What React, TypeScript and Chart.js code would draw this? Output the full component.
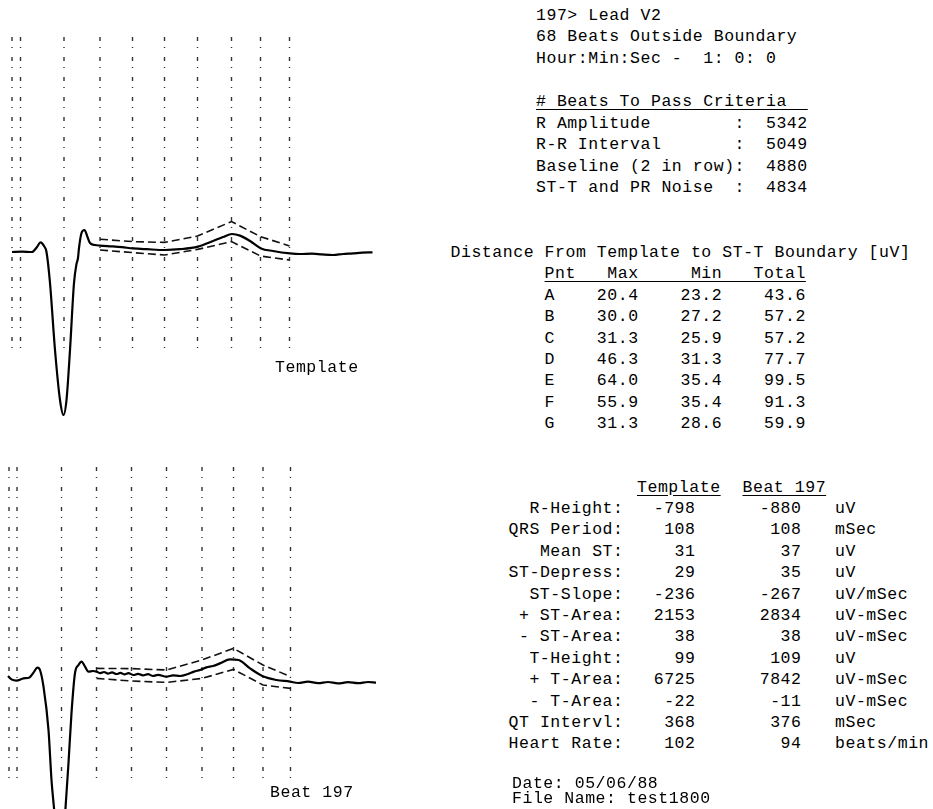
import React, { useEffect, useRef } from "react";
import { Chart, registerables } from "chart.js";
Chart.register(...registerables);

// ---------- waveform data (time in ms, amplitude in uV) ----------
const TOP_MARKERS = [0, 17, 104, 176, 241, 305, 371, 439, 497, 555];
const BOTTOM_MARKERS = [2, 18, 107, 177, 247, 317, 388, 451, 510, 565];

const TEMPLATE_T = [0, 20, 40, 50, 57, 64, 69, 76, 86, 96, 103, 109, 116, 124, 129, 132, 134, 139, 145, 151, 156, 166, 176, 200, 220, 242, 270, 306, 336, 372, 402, 422, 440, 456, 476, 498, 522, 556, 576, 600, 620, 642, 662, 682, 700, 721];
const TEMPLATE_V = [0, 2, 0, 25, 48, 30, 0, -155, -490, -740, -815, -740, -490, -155, -60, -30, 20, 95, 110, 75, 45, 35, 32, 28, 24, 18, 14, 10, 14, 27, 55, 75, 90, 82, 55, 18, 5, -7, -10, -8, -12, -15, -10, -7, -3, -2];

const TOP_UPPER = [64, 52, 48, 80, 152, 77, 30];
const TOP_LOWER = [10, -3, -15, 13, 52, -20, -40];

const BEAT_T = [0, 7, 17, 31, 43, 51, 59, 64, 71, 81, 87, 92, 98, 104, 110, 115, 121, 127, 134, 141, 147, 154, 161, 170, 177, 185, 192, 200, 208, 217, 225, 233, 241, 251, 260, 270, 280, 290, 300, 317, 330, 344, 360, 372, 384, 397, 410, 424, 444, 461, 484, 511, 537, 564, 580, 600, 620, 640, 660, 680, 700, 720, 736];
const BEAT_V = [30, 13, 7, 18, 23, 47, 72, 60, -23, -240, -490, -630, -800, -880, -800, -630, -405, -155, 45, 85, 102, 77, 52, 55, 52, 44, 50, 42, 48, 40, 46, 38, 44, 35, 41, 33, 39, 30, 36, 27, 33, 30, 40, 52, 60, 73, 80, 93, 113, 110, 68, 27, 10, 2, -5, 2, -6, 0, -7, -1, -6, 0, -3];

const BEAT_UPPER = [68, 67, 60, 110, 168, 85, 27];
const BEAT_LOWER = [18, 5, -2, 18, 63, -15, -32];

const GRID_TOP = 1075;
const GRID_BOTTOM = -500;

// ---------- text data ----------
const INFO_LINES = ["197> Lead V2", "68 Beats Outside Boundary", "Hour:Min:Sec -  1: 0: 0"];
const CRITERIA_TITLE = "# Beats To Pass Criteria";
const CRITERIA_LABELS = ["R Amplitude", "R-R Interval", "Baseline (2 in row)", "ST-T and PR Noise"];
const CRITERIA_VALUES = [5342, 5049, 4880, 4834];

const DIST_TITLE = "Distance From Template to ST-T Boundary [uV]";
const DIST_POINTS = ["A", "B", "C", "D", "E", "F", "G"];
const DIST_MAX = ["20.4", "30.0", "31.3", "46.3", "64.0", "55.9", "31.3"];
const DIST_MIN = ["23.2", "27.2", "25.9", "31.3", "35.4", "35.4", "28.6"];
const DIST_TOTAL = ["43.6", "57.2", "57.2", "77.7", "99.5", "91.3", "59.9"];

const MEAS_LABELS = ["R-Height:", "QRS Period:", "Mean ST:", "ST-Depress:", "ST-Slope:", "+ ST-Area:", "- ST-Area:", "T-Height:", "+ T-Area:", "- T-Area:", "QT Intervl:", "Heart Rate:"];
const MEAS_TEMPLATE = [-798, 108, 31, 29, -236, 2153, 38, 99, 6725, -22, 368, 102];
const MEAS_BEAT = [-880, 108, 37, 35, -267, 2834, 38, 109, 7842, -11, 376, 94];
const MEAS_UNITS = ["uV", "mSec", "uV", "uV", "uV/mSec", "uV-mSec", "uV-mSec", "uV", "uV-mSec", "uV-mSec", "mSec", "beats/min"];

const FOOTER_LINES = ["Date: 05/06/88", "File Name: test1800"];

type EcgProps = {
  markers: number[];
  traceT: number[];
  traceV: number[];
  upper: number[];
  lower: number[];
  xMin: number;
  xMax: number;
  yMin: number;
  yMax: number;
  width: number;
  height: number;
};

function EcgChart(p: EcgProps) {
  const ref = useRef<HTMLCanvasElement | null>(null);
  useEffect(() => {
    if (!ref.current) return;
    const boundT = p.markers.slice(3);
    const datasets: any[] = [];
    datasets.push({
      data: p.traceT.map((t, i) => ({ x: t, y: p.traceV[i] })),
      borderColor: "#000",
      borderWidth: 2.2,
      pointRadius: 0,
      cubicInterpolationMode: "monotone",
      order: 0,
    });
    datasets.push({
      data: boundT.map((t, i) => ({ x: t, y: p.upper[i] })),
      borderColor: "#111",
      borderWidth: 1.6,
      borderDash: [8, 4],
      pointRadius: 0,
      order: 1,
    });
    datasets.push({
      data: boundT.map((t, i) => ({ x: t, y: p.lower[i] })),
      borderColor: "#111",
      borderWidth: 1.6,
      borderDash: [8, 4],
      pointRadius: 0,
      order: 1,
    });
    p.markers.forEach((m) => {
      datasets.push({
        data: [
          { x: m, y: GRID_TOP },
          { x: m, y: GRID_BOTTOM },
        ],
        borderColor: "#333",
        borderWidth: 1.4,
        borderDash: [4, 6, 1, 9],
        pointRadius: 0,
        order: 2,
      });
    });
    const chart = new Chart(ref.current, {
      type: "line",
      data: { datasets },
      options: {
        animation: false,
        responsive: false,
        devicePixelRatio: 1,
        events: [],
        layout: { padding: 0 },
        plugins: { legend: { display: false }, tooltip: { enabled: false } },
        scales: {
          x: { type: "linear", min: p.xMin, max: p.xMax, display: false },
          y: { type: "linear", min: p.yMin, max: p.yMax, display: false },
        },
      },
    });
    return () => chart.destroy();
  }, []);
  return <canvas ref={ref} width={p.width} height={p.height} style={{ display: "block", width: p.width, height: p.height }} />;
}

const mono: React.CSSProperties = {
  position: "absolute",
  fontFamily: "'Liberation Mono', 'DejaVu Sans Mono', monospace",
  fontSize: 16.5,
  letterSpacing: "0.55px",
  whiteSpace: "pre",
  color: "#000",
  margin: 0,
};

export default function App() {
  const criteriaRows = CRITERIA_LABELS.map((l, i) => l.padEnd(19) + ":  " + String(CRITERIA_VALUES[i]));
  const distRows = DIST_POINTS.map(
    (pt, i) => " ".repeat(9) + pt + DIST_MAX[i].padStart(8) + DIST_MIN[i].padStart(8) + DIST_TOTAL[i].padStart(8)
  );
  const L1 = 21.55;
  const L2 = 21.4;
  const L3 = 21.4;
  return (
    <div style={{ position: "absolute", left: 0, top: 0, width: 933, height: 809, background: "#fff", overflow: "hidden" }}>
      <div style={{ position: "absolute", left: 0, top: 0 }}>
        <EcgChart
          markers={TOP_MARKERS}
          traceT={TEMPLATE_T}
          traceV={TEMPLATE_V}
          upper={TOP_UPPER}
          lower={TOP_LOWER}
          xMin={-24}
          xMax={776}
          yMin={-890}
          yMax={1260}
          width={400}
          height={430}
        />
      </div>
      <div style={{ position: "absolute", left: 0, top: 430 }}>
        <EcgChart
          markers={BOTTOM_MARKERS}
          traceT={BEAT_T}
          traceV={BEAT_V}
          upper={BEAT_UPPER}
          lower={BEAT_LOWER}
          xMin={-16}
          xMax={784}
          yMin={-635}
          yMax={1260}
          width={400}
          height={379}
        />
      </div>

      <div style={{ ...mono, left: 275, top: 356.5, lineHeight: "21.5px" }}>Template</div>
      <div style={{ ...mono, left: 270, top: 781.5, lineHeight: "21.5px" }}>Beat 197</div>

      <div style={{ ...mono, left: 536, top: 4.9, lineHeight: L1 + "px" }}>
        {INFO_LINES.join("\n") + "\n\n"}
        <span style={{ textDecoration: "underline", textUnderlineOffset: "3px" }}>{(CRITERIA_TITLE + "  ").padEnd(26)}</span>
        {"\n" + criteriaRows.join("\n")}
      </div>

      <div style={{ ...mono, left: 450.5, top: 241.9, lineHeight: L2 + "px" }}>
        {DIST_TITLE + "\n" + " ".repeat(9)}
        <span style={{ textDecoration: "underline", textUnderlineOffset: "3px" }}>{"Pnt   Max     Min   Total"}</span>
        {"\n" + distRows.join("\n")}
      </div>

      <div style={{ ...mono, left: 637, top: 476.5, lineHeight: L3 + "px", textDecoration: "underline", textUnderlineOffset: "3px" }}>Template</div>
      <div style={{ ...mono, left: 742.5, top: 476.5, lineHeight: L3 + "px", textDecoration: "underline", textUnderlineOffset: "3px" }}>Beat 197</div>
      <div style={{ ...mono, left: 400, width: 223.5, textAlign: "right", top: 476.5 + L3, lineHeight: L3 + "px" }}>
        {MEAS_LABELS.join("\n")}
      </div>
      <div style={{ ...mono, left: 640, width: 55.5, textAlign: "right", top: 476.5 + L3, lineHeight: L3 + "px" }}>
        {MEAS_TEMPLATE.map(String).join("\n")}
      </div>
      <div style={{ ...mono, left: 740, width: 61.5, textAlign: "right", top: 476.5 + L3, lineHeight: L3 + "px" }}>
        {MEAS_BEAT.map(String).join("\n")}
      </div>
      <div style={{ ...mono, left: 835, top: 476.5 + L3, lineHeight: L3 + "px" }}>
        {MEAS_UNITS.join("\n")}
      </div>

      <div style={{ ...mono, left: 512, top: 776.4, lineHeight: "15px" }}>{FOOTER_LINES.join("\n")}</div>
    </div>
  );
}
